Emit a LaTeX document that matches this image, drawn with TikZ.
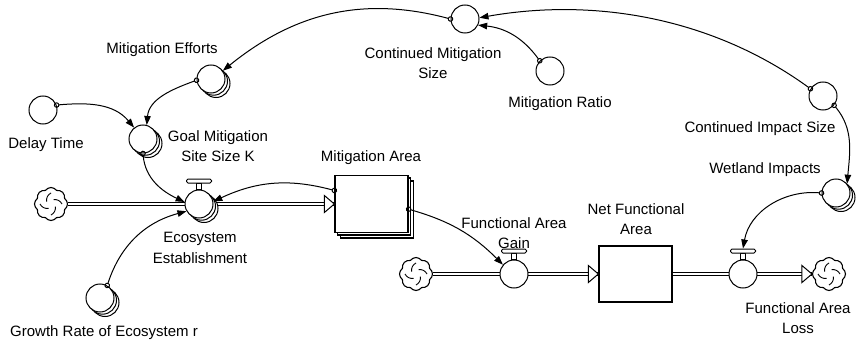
\documentclass[tikz,border=0pt]{standalone}
\usepackage{fontspec}
\setmainfont{Liberation Sans}
\usetikzlibrary{arrows.meta,positioning,calc,shapes.symbols,shadows}
\definecolor{ink}{HTML}{000000}
\tikzset{
  aux/.style={circle, draw=ink, fill=white, line width=1pt, minimum size=28pt, inner sep=0pt},
  stacked/.style={copy shadow={shadow xshift=5pt, shadow yshift=-4.5pt, line width=1pt},
                  copy shadow={shadow xshift=2.5pt, shadow yshift=-2.2pt, line width=1pt}},
  level/.style={rectangle, draw=ink, fill=white, line width=1.3pt, inner sep=0pt},
  source/.style={cloud, cloud puffs=8, cloud puff arc=110, aspect=1, draw=ink, fill=white,
                 line width=1.1pt, minimum size=33pt, inner sep=0pt},
  valvebar/.style={rectangle, rounded corners=1.5pt, draw=ink, fill=white, line width=1pt,
                   minimum width=25pt, minimum height=4pt, inner sep=0pt},
  pipe/.style={draw=ink, line width=1pt, double=white, double distance=2.6pt},
  link/.style={{Circle[open, length=5.5pt, width=5.5pt]}-{Triangle[length=9pt, width=6.5pt]},
               line width=1pt, draw=ink, shorten <=-2.75pt},
  tag/.style={font=\fontsize{15}{20.5}\selectfont, align=center, inner sep=0pt},
}

\begin{document}
\begin{tikzpicture}[x=1pt, y=-1pt]
  \useasboundingbox (0,0) rectangle (867,350);

  % stocks and clouds
  \node[level, minimum width=73pt, minimum height=57pt,
        copy shadow={shadow xshift=5.5pt, shadow yshift=-5.5pt, line width=1.3pt},
        copy shadow={shadow xshift=2.5pt, shadow yshift=-2.5pt, line width=1.3pt}] (area) at (371.5,204) {};
  \node[level, minimum width=73pt, minimum height=56pt] (net) at (635.5,274) {};
  \node[source] (src1) at (51,204) {};
  \node[source] (src2) at (416,274) {};
  \node[source] (sink) at (829,274) {};
  \foreach \c in {src1, src2, sink}
    \foreach \a in {0, 90, 180, 270}
      \draw[draw=ink, line width=0.9pt] ($(\c)+(\a:11pt)$) to[bend right=35] ($(\c)+({\a+60}:5pt)$);

  % pipes
  \draw[pipe] (src1.east) -- (area.west);
  \draw[pipe] (src2.east) -- (net.west);
  \draw[pipe] (net.east) -- (sink.west);
  \foreach \s in {area, net, sink}
    \draw[draw=ink, fill=white, line width=1pt] (\s.west) -- ++(-10pt,8.5pt) -- ++(0pt,-17pt) -- cycle;

  % valves
  \node[aux, stacked] (estab) at (199,204) {};
  \node[aux] (gain) at (514,274) {};
  \node[aux] (loss) at (743,274) {};
  \foreach \v in {estab, gain, loss} {
    \draw[draw=ink, fill=white, line width=1pt] ([xshift=-2.5pt]\v.north) rectangle ([xshift=2.5pt,yshift=6pt]\v.north);
    \node[valvebar, above=6pt of \v.north] (\v-bar) {};
  }

  % auxiliaries
  \node[aux] (delay) at (43,110) {};
  \node[aux, stacked] (efforts) at (211,79) {};
  \node[aux, stacked] (goal) at (143,139) {};
  \node[aux] (contmit) at (465,19) {};
  \node[aux] (ratio) at (550,71) {};
  \node[aux] (contimp) at (823,96) {};
  \node[aux, stacked] (impacts) at (836,193) {};
  \node[aux, stacked] (growth) at (100,298) {};

  % names
  \node[tag] (efforts-tag) at (162,50) {Mitigation Efforts};
  \node[tag] (delay-tag) at (46,145) {Delay Time};
  \node[tag] (goal-tag) at (218,146) {Goal Mitigation\\Site Size K};
  \node[tag] (contmit-tag) at (433,63) {Continued Mitigation\\Size};
  \node[tag] (ratio-tag) at (560,104) {Mitigation Ratio};
  \node[tag] (contimp-tag) at (760,129) {Continued Impact Size};
  \node[tag] (impacts-tag) at (765,170) {Wetland Impacts};
  \node[tag] (area-tag) at (371,158) {Mitigation Area};
  \node[tag] (estab-tag) at (200,248) {Ecosystem\\Establishment};
  \node[tag] (growth-tag) at (104,333) {Growth Rate of Ecosystem r};
  \node[tag] (gain-tag) at (514,233) {Functional Area\\Gain};
  \node[tag] (net-tag) at (636,219) {Net Functional\\Area};
  \node[tag] (loss-tag) at (798,318) {Functional Area\\Loss};

  % information links
  \draw[link] (contmit.180) to[out=165, in=39] (efforts.35);
  \draw[link] (ratio.135) to[out=126, in=-6] (contmit.-25);
  \draw[link] (contimp.150) to[out=144, in=10, looseness=0.9] (contmit.5);
  \draw[link] (contimp.-40) to[out=-50, in=85] (impacts.40);
  \draw[link] (impacts.180) to[out=175, in=80] (loss-bar.north);
  \draw[link] (area.-8) to[out=-16, in=135] (gain.140);
  \draw[link] (area.160) to[out=165, in=25] (estab.10);
  \draw[link] (goal.south) to[out=-85, in=155] (estab.172);
  \draw[link] (growth.60) to[out=72, in=195] (estab.210);
  \draw[link] (delay.20) to[out=5, in=130] (goal.128);
  \draw[link] (efforts.185) to[out=200, in=85] (goal.75);
\end{tikzpicture}
\end{document}
